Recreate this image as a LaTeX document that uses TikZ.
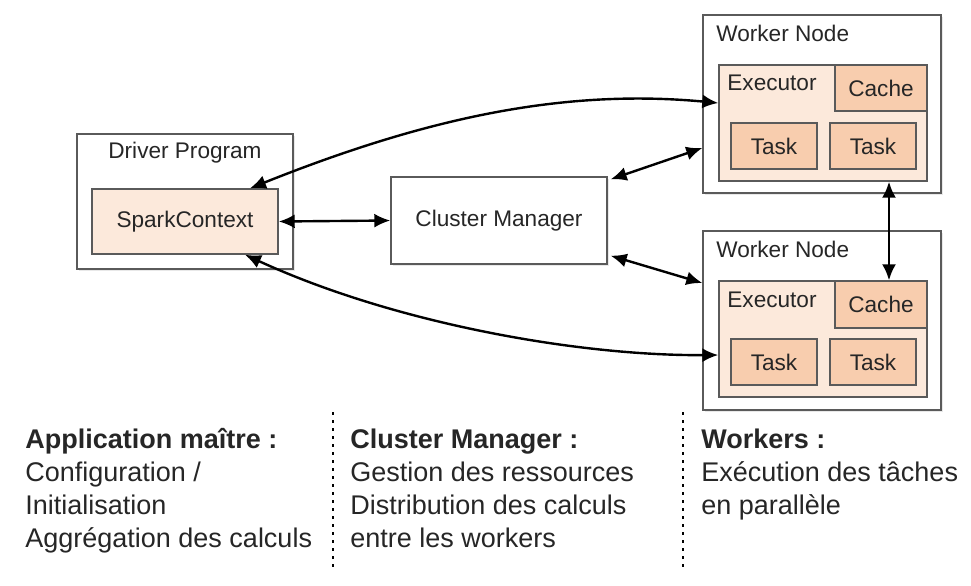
\documentclass[tikz,border=0pt]{standalone}
\usepackage{fontspec}
\setmainfont{Liberation Sans}
\usetikzlibrary{arrows.meta,shadows}
\definecolor{boxgray}{HTML}{5A5A5A}
\definecolor{peachlight}{HTML}{FCE9DB}
\definecolor{peachdark}{HTML}{F8CDAE}

\begin{document}
\begin{tikzpicture}[x=0.5pt, y=-0.5pt,
    frame/.style={draw=boxgray, line width=0.7pt, fill=white, inner sep=0pt,
      drop shadow={shadow xshift=1pt, shadow yshift=-1pt, opacity=0.18}},
    softbox/.style={draw=boxgray, line width=0.7pt, fill=peachlight, inner sep=0pt},
    hardbox/.style={draw=boxgray, line width=0.7pt, fill=peachdark, inner sep=0pt},
    lbl/.style={font=\fontsize{11.3}{13}\selectfont, text=black!85, inner sep=0pt},
    link/.style={{Latex[length=8pt,width=7pt]}-{Latex[length=8pt,width=7pt]}, line width=1.2pt},
    sep/.style={line width=1.3pt, dash pattern=on 1.4pt off 2.6pt},
    col/.style={anchor=base west, align=left, inner sep=0pt,
      font=\fontsize{13.5}{16.5}\selectfont, text=black!85}]
  \useasboundingbox (0,0) rectangle (971,585);
  % Driver
  \node[frame, minimum width=108pt, minimum height=67.5pt] (driver) at (185,201.5) {};
  \node[lbl] (driverlbl) at (185,153) {Driver Program};
  \node[softbox, lbl, minimum width=93pt, minimum height=32.5pt] (spark) at (185,221.5) {SparkContext};
  % Cluster manager
  \node[frame, lbl, minimum width=108pt, minimum height=43.5pt] (cm) at (499,220.5) {Cluster Manager};
  % Worker 1
  \node[frame, minimum width=119pt, minimum height=89pt] (w1) at (822,104) {};
  \node[lbl, anchor=west] (w1lbl) at (716,33) {Worker Node};
  \node[softbox, minimum width=104pt, minimum height=58pt] (e1) at (823,123) {};
  \node[lbl, anchor=west] (e1lbl) at (727,83) {Executor};
  \node[hardbox, lbl, minimum width=46pt, minimum height=23pt] (c1) at (881,88) {Cache};
  \node[hardbox, lbl, minimum width=43pt, minimum height=23pt] (t1a) at (774,146) {Task};
  \node[hardbox, lbl, minimum width=43pt, minimum height=23pt] (t1b) at (873,146) {Task};
  % Worker 2
  \node[frame, minimum width=119pt, minimum height=89.5pt] (w2) at (822,320.5) {};
  \node[lbl, anchor=west] (w2lbl) at (716,249) {Worker Node};
  \node[softbox, minimum width=104pt, minimum height=58pt] (e2) at (823,339) {};
  \node[lbl, anchor=west] (e2lbl) at (727,300) {Executor};
  \node[hardbox, lbl, minimum width=46pt, minimum height=23.5pt] (c2) at (881,304.5) {Cache};
  \node[hardbox, lbl, minimum width=43pt, minimum height=23pt] (t2a) at (774,362) {Task};
  \node[hardbox, lbl, minimum width=43pt, minimum height=23pt] (t2b) at (873,362) {Task};
  % Links
  \draw[link] (spark.east) -- (cm.west);
  \draw[link] ([shift={(1.5pt,-1.5pt)}]cm.north east) -- ([yshift=-22pt]w1.west);
  \draw[link] ([shift={(1.5pt,4.5pt)}]cm.south east) -- ([yshift=18.75pt]w2.west);
  \draw[link] ([xshift=32.5pt]spark.north) .. controls +(170,-68) and +(-159,-15) .. ([yshift=10pt]e1.west);
  \draw[link] ([xshift=30pt]spark.south) .. controls +(150,69) and +(-139,1) .. ([yshift=-8pt]e2.west);
  \draw[link] ([xshift=33pt]e1.south) -- ([xshift=4pt]c2.north);
  % Separators
  \coordinate (s1top) at (333,412);
  \coordinate (s1bot) at (333,570);
  \coordinate (s2top) at (683,412);
  \coordinate (s2bot) at (683,570);
  \draw[sep] (s1top) -- (s1bot);
  \draw[sep] (s2top) -- (s2bot);
  % Captions (base = last line)
  \node[col] (app) at (25,547) {\textbf{Application maître :}\\Configuration /\\Initialisation\\Aggrégation des calculs};
  \node[col] (mgr) at (350,547) {\textbf{Cluster Manager :}\\Gestion des ressources\\Distribution des calculs\\entre les workers};
  \node[col] (wrk) at (701,514) {\textbf{Workers :}\\Exécution des tâches\\en parallèle};
\end{tikzpicture}
\end{document}
